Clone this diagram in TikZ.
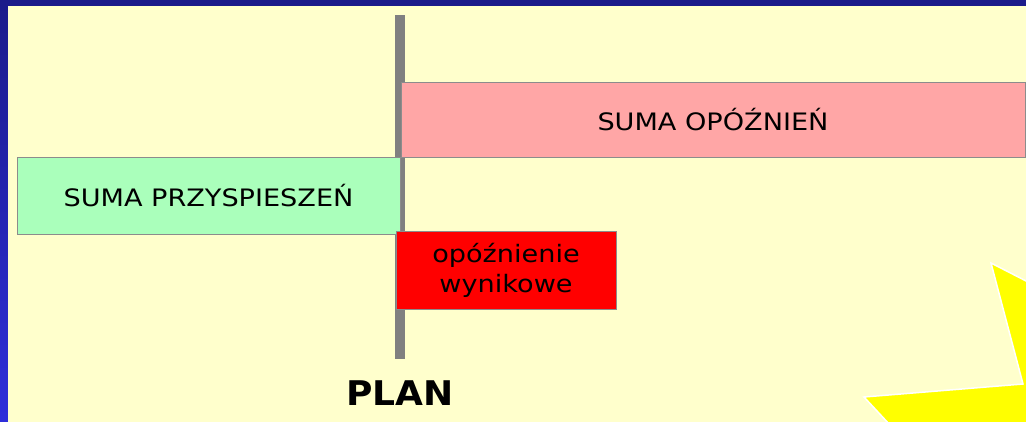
\documentclass[tikz,border=0pt]{standalone}
\usepackage{fontspec}
\setmainfont{DejaVu Sans}[FakeStretch=1.13,BoldFeatures={FakeStretch=1.06}]
\usepackage{tikz}
\usetikzlibrary{positioning}
\definecolor{tlo}{RGB}{255,255,204}
\definecolor{ramkagora}{RGB}{27,27,138}
\definecolor{ramkadol}{RGB}{46,46,218}
\definecolor{opoznienia}{RGB}{255,166,166}
\definecolor{przyspieszenia}{RGB}{170,255,187}
\definecolor{gwiazda}{RGB}{255,255,0}

\begin{document}
\begin{tikzpicture}[x=1pt,y=-1pt]
 \tikzstyle{pasek}=[draw=gray!90,line width=0.8pt,font=\fontsize{24}{30}\selectfont,align=center,inner sep=0pt]

   \useasboundingbox (0,0) rectangle (1026,421);
   % tlo i ramka
   \shade[top color=ramkagora,bottom color=ramkadol] (-1,-1) rectangle (1027,423);
   \fill[tlo] (8,6) rectangle (1027,423);
   % gwiazda
   \begin{scope}
   \clip (8,6) rectangle (1027,423);
   \draw[fill=gwiazda,draw=white,line width=1.5pt] (991,263) -- (1023,384) -- (864,397) -- (890,425) -- (1030,425) -- (1030,283) -- cycle;
   \end{scope}
   % os planu
   \fill[gray] (395,15) rectangle (405,359);
   \coordinate (os) at (400,359);

   \node[pasek,fill=opoznienia,minimum width=624pt,minimum height=75pt] (opozn) at (713,119.5) {SUMA OPÓŹNIEŃ};
   \node[pasek,fill=przyspieszenia,minimum width=383pt,minimum height=77pt] (przysp) at (208.5,195.5) {SUMA PRZYSPIESZEŃ};
   \node[pasek,fill=red,minimum width=220pt,minimum height=78pt] (wynik) at (506,270) {opóźnienie\\wynikowe};

   \node[font=\fontsize{34}{40}\selectfont\bfseries,below=18pt of os] (plan) {PLAN};

\end{tikzpicture}
\end{document}
